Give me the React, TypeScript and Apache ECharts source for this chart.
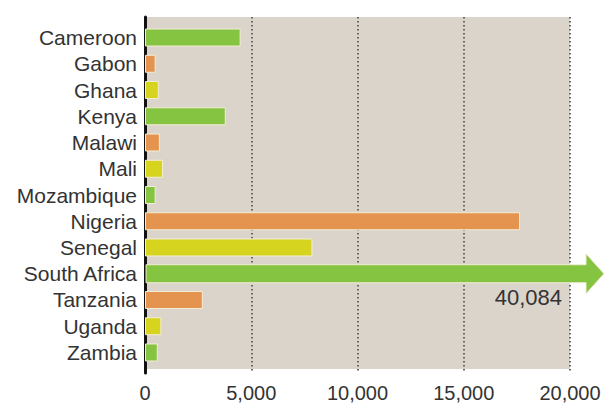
import React, { useEffect, useRef } from 'react';
import * as echarts from 'echarts';

const countries = ['Cameroon', 'Gabon', 'Ghana', 'Kenya', 'Malawi', 'Mali', 'Mozambique', 'Nigeria', 'Senegal', 'South Africa', 'Tanzania', 'Uganda', 'Zambia'];
const values = [4500, 500, 650, 3800, 700, 850, 500, 17650, 7880, 40084, 2720, 770, 600];
const xTicks = [0, 5000, 10000, 15000, 20000];
const palette = ['#85c441', '#e5944f', '#d7d41f'];

const axisMin = xTicks[0];
const axisMax = xTicks[xTicks.length - 1];
const tickStep = xTicks[1] - xTicks[0];
const FONT = '"Liberation Sans", Arial, sans-serif';
const BORDER = '#f3edd4';

export default function App() {
  const ref = useRef<HTMLDivElement>(null);
  useEffect(() => {
    if (!ref.current) return;
    const chart = echarts.init(ref.current, undefined, { renderer: 'svg' });
    const barData = values.map((v, i) =>
      v > axisMax ? '-' : { value: v, itemStyle: { color: palette[i % palette.length] } }
    );
    const overData = values
      .map((v, i) => (v > axisMax ? [v, i] : null))
      .filter((d) => d !== null);

    chart.setOption({
      animation: false,
      backgroundColor: '#ffffff',
      grid: [
        { left: 145, right: 34, top: 24.4, bottom: 37.4, show: false },
        { left: 145, right: 34, top: 17, bottom: 34, show: true, backgroundColor: '#dbd4ca', borderWidth: 0 },
        { left: 145, right: 34, top: 17, bottom: 30, show: false },
      ],
      xAxis: [
        { gridIndex: 0, type: 'value', min: axisMin, max: axisMax, interval: tickStep, show: false },
        {
          gridIndex: 1, type: 'value', min: axisMin, max: axisMax, interval: tickStep,
          axisLine: { show: false }, axisTick: { show: false },
          axisLabel: {
            fontSize: 20, color: '#333', fontFamily: FONT, margin: 14,
            formatter: (v: number) => v.toLocaleString('en-US'),
          },
          splitLine: { show: false },
        },
        {
          gridIndex: 2, type: 'value', min: axisMin, max: axisMax, interval: tickStep,
          axisLine: { show: false }, axisTick: { show: false }, axisLabel: { show: false },
          splitLine: { show: true, lineStyle: { color: '#666', type: [1.5, 2.5], width: 2 } },
        },
      ],
      yAxis: [
        {
          gridIndex: 0, type: 'category', data: countries, inverse: true,
          axisLine: { show: false }, axisTick: { show: false },
          axisLabel: { fontSize: 21, color: '#333', fontFamily: FONT, margin: 8, interval: 0 },
        },
        {
          gridIndex: 1, type: 'value', min: 0, max: 1, show: false,
        },
        {
          gridIndex: 2, type: 'value', min: 0, max: 1,
          axisLine: { show: true, lineStyle: { color: '#111', width: 3 } },
          axisTick: { show: false }, axisLabel: { show: false }, splitLine: { show: false },
        },
      ],
      series: [
        {
          type: 'bar', xAxisIndex: 0, yAxisIndex: 0, data: barData, barWidth: 18,
          itemStyle: { borderColor: BORDER, borderWidth: 1 },
          z: 3,
        },
        {
          type: 'custom', xAxisIndex: 0, yAxisIndex: 0, data: overData, clip: false, z: 4,
          encode: { x: 0, y: 1 },
          renderItem: (params: any, api: any) => {
            const v = api.value(0);
            const idx = api.value(1);
            const start = api.coord([0, idx]);
            const end = api.coord([Math.min(v, axisMax), idx]);
            const y = start[1];
            const h = 18;
            const shaftEnd = end[0] + 16;
            const tip = end[0] + 34;
            return {
              type: 'group',
              children: [
                {
                  type: 'polygon',
                  shape: {
                    points: [
                      [start[0] + 1, y - h / 2], [shaftEnd, y - h / 2], [shaftEnd, y - 20], [tip, y],
                      [shaftEnd, y + 20], [shaftEnd, y + h / 2], [start[0] + 1, y + h / 2],
                    ],
                  },
                  style: { fill: palette[idx % palette.length], stroke: BORDER, lineWidth: 1 },
                },
                {
                  type: 'text',
                  style: {
                    text: v.toLocaleString('en-US'), x: end[0] - 8, y: y + 24,
                    align: 'right', verticalAlign: 'middle', fontSize: 22, fill: '#333', fontFamily: FONT,
                  },
                },
              ],
            };
          },
        },
      ],
    });
    return () => chart.dispose();
  }, []);
  return <div ref={ref} style={{ position: 'fixed', left: 0, top: 0, width: 604, height: 403 }} />;
}
